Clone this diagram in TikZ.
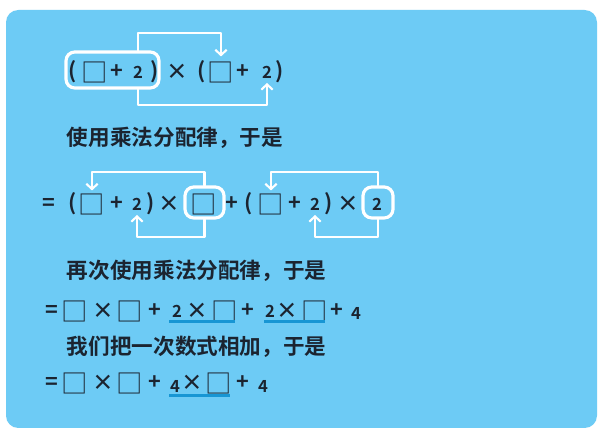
\documentclass[tikz,border=0pt]{standalone}
\usepackage{fontspec}
\newfontfamily\cjk{Noto Sans CJK SC}[BoldFont={* Bold}]
\usetikzlibrary{arrows.meta,calc}
\definecolor{bg}{HTML}{6DCBF5}
\definecolor{ink}{HTML}{1B2430}
\definecolor{ulc}{HTML}{1796D4}
\tikzset{
 tok/.style={inner sep=0pt, outer sep=0pt, text=ink, font=\cjk\bfseries\fontsize{12.3}{14}\selectfont},
 sqr/.style={inner sep=0pt, outer sep=0pt, text=ink, font=\cjk\fontsize{15}{16}\selectfont},
 dig/.style={inner sep=0pt, outer sep=0pt, text=ink, anchor=south, font=\cjk\bfseries\fontsize{9.5}{10}\selectfont},
 zh/.style={tok, anchor=west},
 wbox/.style={draw=white, line width=1.8pt, rounded corners=5pt, inner sep=0pt},
 arr/.style={draw=white, line width=1.2pt, line cap=round, line join=round, -{Straight Barb[length=3pt,width=6.5pt]}},
 ul/.style={draw=ulc, line width=1.4pt},
}
\begin{document}
\begin{tikzpicture}[x=0.02cm, y=-0.02cm]
\useasboundingbox (0,0) rectangle (606,438);
\fill[white] (0,0) rectangle (606,438);
\fill[bg, rounded corners=7pt] (6,10) rectangle (597,428);

% ---- line 1
\node[tok] (a1) at (73,72) {(};
\node[sqr] (s1) at (95,72) {□};
\node[tok] (p1) at (117,72) {+};
\node[dig] (t1) at (138,79) {2};
\node[tok] (c1) at (155,72) {)};
\node[tok] (x1) at (177,72) {×};
\node[tok] (a2) at (202,72) {(};
\node[sqr] (s2) at (221,72) {□};
\node[tok] (p2) at (243,72) {+};
\node[dig] (t2) at (267,79) {2};
\node[tok] (c2) at (280,72) {)};
\node[wbox, minimum width=1.86cm, minimum height=0.72cm] (b1) at (112.5,70) {};
\draw[arr] (b1.north -| t1) -- ++(0,-17) -| ($(s2.north)+(0,-5)$);
\draw[arr] (b1.south -| t1) -- ++(0,15) -| ($(t2.south)+(0,4)$);

% ---- line 2
\node[zh] (z1) at (67,138) {使用乘法分配律，于是};

% ---- line 3
\node[tok] (e3) at (49,204) {=};
\node[tok] (a3) at (73,204) {(};
\node[sqr] (s3a) at (92,204) {□};
\node[tok] (p3a) at (117,204) {+};
\node[dig] (t3a) at (137,211) {2};
\node[tok] (c3a) at (151,204) {)};
\node[tok] (x3a) at (169,204) {×};
\node[sqr] (s3c) at (204,204) {□};
\node[tok] (p3b) at (232,204) {+};
\node[tok] (a3b) at (249,204) {(};
\node[sqr] (s3b) at (271,204) {□};
\node[tok] (p3c) at (295,204) {+};
\node[dig] (t3b) at (315,211) {2};
\node[tok] (c3b) at (329,204) {)};
\node[tok] (x3b) at (348,204) {×};
\node[dig] (t3c) at (377,211) {2};
\node[wbox, minimum width=0.78cm, minimum height=0.62cm] (bA) at (204.5,202.5) {};
\node[wbox, minimum width=0.60cm, minimum height=0.62cm] (bB) at (378,202.5) {};
\draw[arr] (bA.north) -- ++(0,-13) -| ($(s3a.north)+(0,-3)$);
\draw[arr] (bA.south) -- ++(0,17) -| ($(t3a.south)+(0,4)$);
\draw[arr] (bB.north) -- ++(0,-13) -| ($(s3b.north)+(0,-3)$);
\draw[arr] (bB.south) -- ++(0,17) -| ($(t3b.south)+(0,4)$);

% ---- line 4
\node[zh] (z2) at (67,271) {再次使用乘法分配律，于是};

% ---- line 5
\node[tok] (e5) at (52,311) {=};
\node[sqr] (s5a) at (75,311) {□};
\node[tok] (x5a) at (103,311) {×};
\node[sqr] (s5b) at (130,311) {□};
\node[tok] (p5a) at (155,311) {+};
\node[dig] (t5a) at (177,318) {2};
\node[tok] (x5b) at (197,311) {×};
\node[sqr] (s5c) at (225,311) {□};
\node[tok] (p5b) at (248,311) {+};
\node[dig] (t5b) at (270,318) {2};
\node[tok] (x5c) at (287,311) {×};
\node[sqr] (s5d) at (315,311) {□};
\node[tok] (p5c) at (337,311) {+};
\node[dig] (f5) at (356,320) {4};
\draw[ul] (169,321.5) -- (235,321.5);
\draw[ul] (264,321.5) -- (325,321.5);

% ---- line 6
\node[zh] (z3) at (67,347) {我们把一次数式相加，于是};

% ---- line 7
\node[tok] (e7) at (52,383) {=};
\node[sqr] (s7a) at (75,383) {□};
\node[tok] (x7a) at (103,383) {×};
\node[sqr] (s7b) at (130,383) {□};
\node[tok] (p7a) at (155,383) {+};
\node[dig] (f7a) at (175,393) {4};
\node[tok] (x7b) at (192,383) {×};
\node[sqr] (s7c) at (219,383) {□};
\node[tok] (p7b) at (243,383) {+};
\node[dig] (f7b) at (263,393) {4};
\draw[ul] (169,395.5) -- (230,395.5);
\end{tikzpicture}
\end{document}
